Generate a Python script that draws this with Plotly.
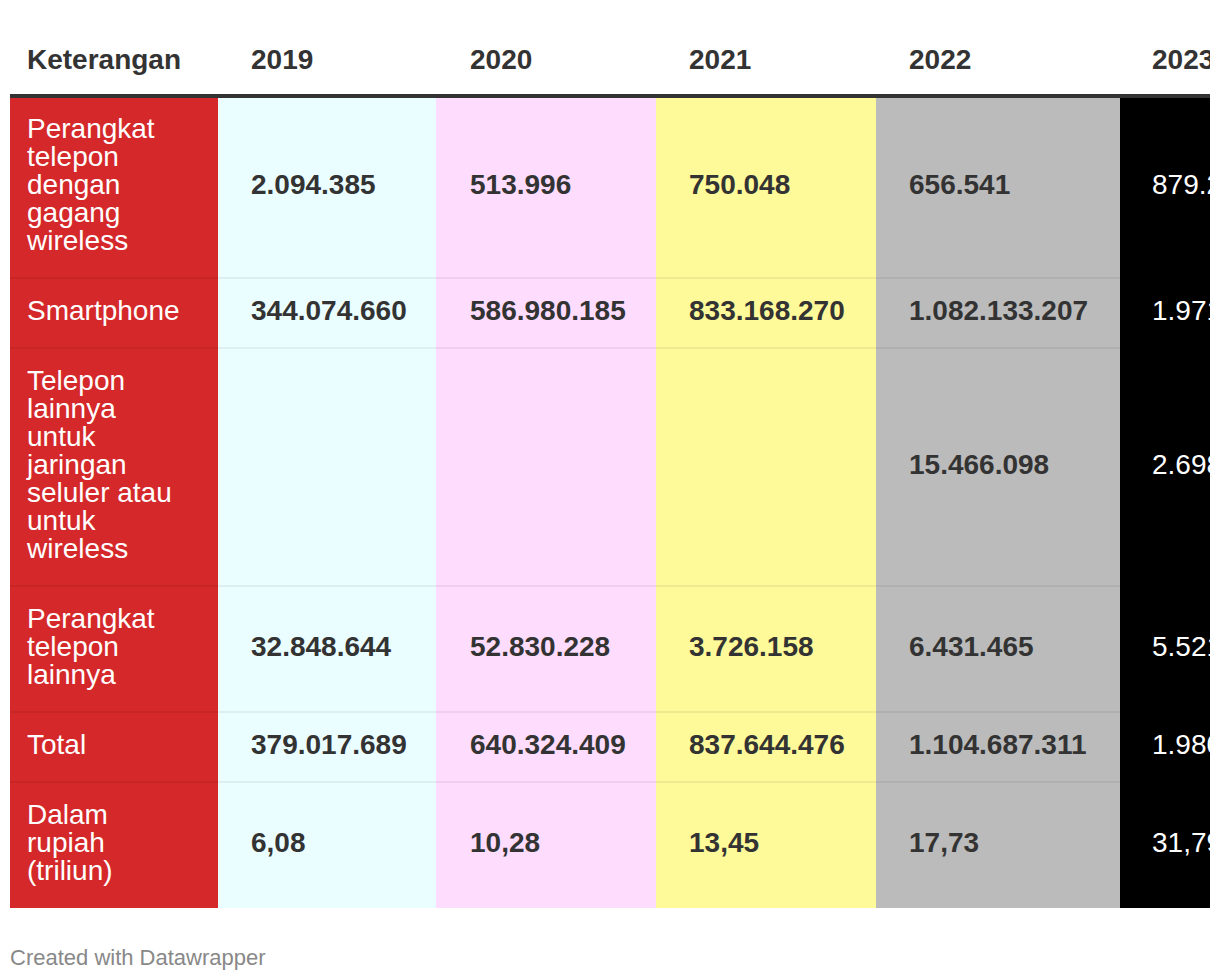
import plotly.graph_objects as go

# ---------------- data ----------------
header_label = "Keterangan"
years = ["2019", "2020", "2021", "2022", "2023"]
categories = [
    "Perangkat\ntelepon\ndengan\ngagang\nwireless",
    "Smartphone",
    "Telepon\nlainnya\nuntuk\njaringan\nseluler atau\nuntuk\nwireless",
    "Perangkat\ntelepon\nlainnya",
    "Total",
    "Dalam\nrupiah\n(triliun)",
]
v2019 = ["2.094.385", "344.074.660", "", "32.848.644", "379.017.689", "6,08"]
v2020 = ["513.996", "586.980.185", "", "52.830.228", "640.324.409", "10,28"]
v2021 = ["750.048", "833.168.270", "", "3.726.158", "837.644.476", "13,45"]
v2022 = ["656.541", "1.082.133.207", "15.466.098", "6.431.465", "1.104.687.311", "17,73"]
v2023 = ["879.215", "1.971.689.340", "2.698.112", "5.521.364", "1.980.788.031", "31,79"]
values = [v2019, v2020, v2021, v2022, v2023]

# ---------------- style / layout ----------------
PAGE_OFF = 8            # default page margin around the figure
W, H = 1220 - PAGE_OFF, 980 - PAGE_OFF
CLIP_X = 1210
FONT = "Liberation Sans, Arial, Helvetica, sans-serif"
FS = 28
LINE_H = 28
ROW_PAD = 42
col_left = [10, 218, 436, 656, 876, 1120]
col_width = [208, 218, 220, 220, 244, 244]
col_fill = ["#d5282a", "#ebfeff", "#fddcfd", "#fef999", "#bbbbbb", "#000000"]
text_offset = [17, 33, 34, 33, 33, 32]
dark = "#333333"
body_top = 96
header_y = 62

line_counts = [len(c.split("\n")) for c in categories]
row_heights = [ROW_PAD + LINE_H * n for n in line_counts]
row_tops = []
t = body_top
for h in row_heights:
    row_tops.append(t)
    t += h
body_bottom = t

fig = go.Figure()

# column backgrounds
fig.add_trace(go.Bar(
    x=[l + w / 2 for l, w in zip(col_left, col_width)],
    y=[body_bottom - body_top] * len(col_left),
    base=[body_top] * len(col_left),
    width=col_width,
    marker=dict(color=col_fill, line=dict(width=0)),
    hoverinfo="skip", showlegend=False,
))

# header texts
hx = [col_left[0] + text_offset[0]] + [col_left[i + 1] + text_offset[i + 1] for i in range(len(years))]
fig.add_trace(go.Scatter(
    x=hx, y=[header_y] * len(hx), mode="text",
    text=[header_label] + years, textposition="middle right",
    textfont=dict(family=FONT, size=FS, color=dark, weight="bold"),
    hoverinfo="skip", showlegend=False,
))

# category labels (first column)
cx, cy, ct = [], [], []
for r, cat in enumerate(categories):
    lines = cat.split("\n")
    block_top = row_tops[r] + (row_heights[r] - LINE_H * len(lines)) / 2
    for i, ln in enumerate(lines):
        cx.append(col_left[0] + text_offset[0])
        cy.append(block_top + LINE_H / 2 + i * LINE_H)
        ct.append(ln)
fig.add_trace(go.Scatter(
    x=cx, y=cy, text=ct, mode="text", textposition="middle right",
    textfont=dict(family=FONT, size=FS, color="#ffffff"),
    hoverinfo="skip", showlegend=False,
))

# value cells
for j, col in enumerate(values):
    ci = j + 1
    xs, ys, ts = [], [], []
    for r, v in enumerate(col):
        if not v:
            continue
        xs.append(col_left[ci] + text_offset[ci])
        ys.append(row_tops[r] + row_heights[r] / 2)
        ts.append(v)
    is_dark_bg = col_fill[ci] == "#000000"
    fig.add_trace(go.Scatter(
        x=xs, y=ys, text=ts, mode="text", textposition="middle right",
        textfont=dict(family=FONT, size=FS,
                      color="#ffffff" if is_dark_bg else dark,
                      weight="normal" if is_dark_bg else "bold"),
        hoverinfo="skip", showlegend=False,
    ))

shapes = []
# row separators
for rt in row_tops[1:]:
    shapes.append(dict(type="line", xref="x", yref="y", x0=col_left[0], x1=1400,
                       y0=rt, y1=rt, line=dict(color="rgba(0,0,0,0.08)", width=1.5),
                       layer="above"))
# header rule
shapes.append(dict(type="line", xref="x", yref="y", x0=col_left[0], x1=1400,
                   y0=body_top, y1=body_top, line=dict(color=dark, width=4), layer="above"))

plot_w = CLIP_X - PAGE_OFF
fig.update_layout(
    width=W, height=H,
    margin=dict(l=0, r=W - plot_w, t=0, b=0, pad=0),
    paper_bgcolor="#ffffff", plot_bgcolor="#ffffff",
    xaxis=dict(range=[PAGE_OFF, CLIP_X], visible=False, fixedrange=True),
    yaxis=dict(range=[PAGE_OFF + H, PAGE_OFF], visible=False, fixedrange=True),
    shapes=shapes,
    bargap=0,
    annotations=[dict(
        text="Created with Datawrapper", x=8, y=957, xref="x", yref="y",
        xanchor="left", yanchor="middle", showarrow=False,
        font=dict(family=FONT, size=22, color="#888888"),
    )],
)

fig.write_html("out.html")
